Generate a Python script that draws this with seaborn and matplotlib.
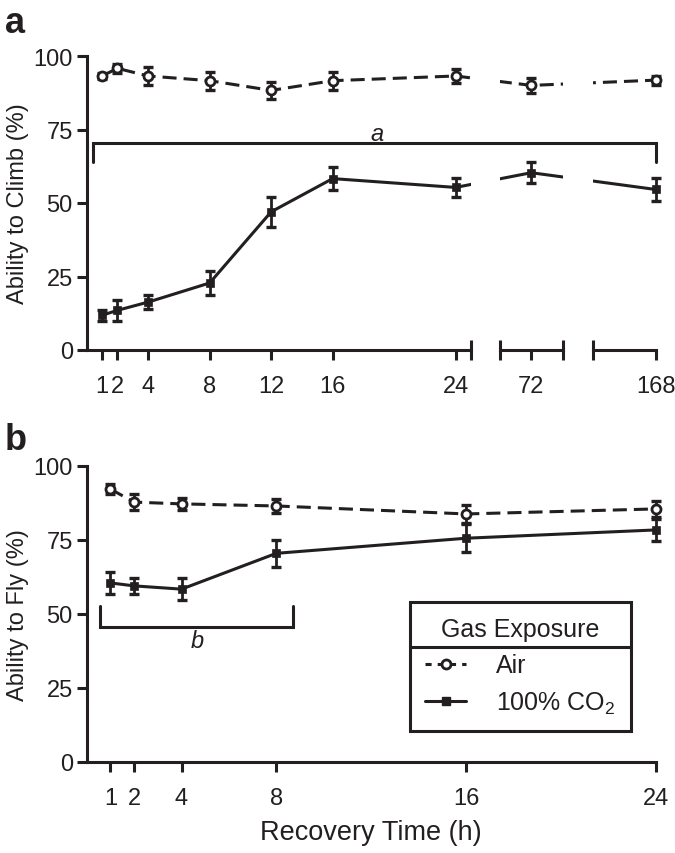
import numpy as np
import matplotlib
matplotlib.use('Agg')
import matplotlib.pyplot as plt
from matplotlib.lines import Line2D
import seaborn as sns

sns.set_theme(style='ticks')
plt.rcParams['font.family'] = ['Liberation Sans', 'DejaVu Sans']
plt.rcParams['mathtext.fontset'] = 'custom'
plt.rcParams['mathtext.rm'] = 'Liberation Sans'
plt.rcParams['mathtext.it'] = 'Liberation Sans:italic'

INK = '#231f20'

# ---- data ----
# panel a: climbing
time_a = [1, 2, 4, 8, 12, 16, 24, 72, 168]
air_climb = [93.2, 95.8, 93.2, 91.6, 88.3, 91.6, 93.2, 90.0, 91.8]
air_climb_err = [1.0, 1.5, 3.2, 3.0, 2.8, 3.0, 2.5, 2.5, 1.5]
co2_climb = [11.8, 13.5, 16.3, 22.8, 47.0, 58.3, 55.3, 60.3, 54.6]
co2_climb_err = [1.8, 3.5, 2.5, 4.0, 5.0, 4.0, 3.3, 3.5, 4.0]

# panel b: flying
time_b = [1, 2, 4, 8, 16, 24]
air_fly = [92.2, 87.8, 87.2, 86.5, 83.8, 85.5]
air_fly_err = [1.8, 2.8, 2.0, 2.5, 3.0, 2.8]
co2_fly = [60.5, 59.5, 58.4, 70.5, 75.6, 78.4]
co2_fly_err = [3.8, 2.8, 3.8, 4.5, 4.7, 3.6]

ticks_a = [1, 2, 4, 8, 12, 16, 24]
ticks_b = [1, 2, 4, 8, 16, 24]
y_ticks = [0, 25, 50, 75, 100]

# ---- broken x axis of panel a: hours -> pixel offset from the y axis ----
brk_h = np.array([0, 25, 70, 74, 164, 170])
brk_px = np.array([0, 384.3, 413.3, 475.8, 506.3, 600.4])


def _interp(v, xs, ys):
    v = np.asarray(v, dtype=float)
    out = np.interp(v, xs, ys)
    lo = (ys[1] - ys[0]) / (xs[1] - xs[0])
    hi = (ys[-1] - ys[-2]) / (xs[-1] - xs[-2])
    out = np.where(v < xs[0], ys[0] + (v - xs[0]) * lo, out)
    out = np.where(v > xs[-1], ys[-1] + (v - xs[-1]) * hi, out)
    return out


def fwd(v):
    return _interp(v, brk_h, brk_px)


def inv(v):
    return _interp(v, brk_px, brk_h)


W, H = 675, 854
fig = plt.figure(figsize=(W / 100, H / 100), dpi=100)


def add_ax(x0, y_top, w, y_bot):
    return fig.add_axes([x0 / W, 1 - y_bot / H, w / W, (y_bot - y_top) / H])


Y0 = 86.7
ax1 = add_ax(Y0, 57, brk_px[1], 351)
ax2 = add_ax(Y0 + brk_px[2], 57, brk_px[3] - brk_px[2], 351)
ax3 = add_ax(Y0 + brk_px[4], 57, brk_px[5] - brk_px[4], 351)
axb = add_ax(Y0, 467, 569.0, 763)

LW = 2.2
FS = 17
FS_LAB = 17


def draw_series(ax, x, y, err, kind, clip=True):
    if kind == 'air':
        st = dict(linestyle=(0, (4.6, 2.3)), marker='o', markersize=6.5,
                  markerfacecolor='white', markeredgewidth=2.0)
    else:
        st = dict(linestyle='-', marker='s', markersize=5.5,
                  markerfacecolor=INK, markeredgewidth=0.5)
    ax.errorbar(x, y, yerr=err, fmt='none', ecolor=INK, elinewidth=2.0,
                capsize=3.5, capthick=2.4, clip_on=clip, zorder=2)
    sns.lineplot(x=x, y=y, ax=ax, color=INK, linewidth=LW, markeredgecolor=INK,
                 errorbar=None, legend=False, clip_on=clip, zorder=3, **st)


for ax in (ax1, ax2, ax3):
    ax.set_xscale('function', functions=(fwd, inv))
    ax.patch.set_visible(False)
    draw_series(ax, time_a, air_climb, air_climb_err, 'air')
    draw_series(ax, time_a, co2_climb, co2_climb_err, 'co2')
    ax.set_ylim(0, 100)
    ax.set_xlabel('')
    ax.set_ylabel('')
    for s in ('top', 'right'):
        ax.spines[s].set_visible(False)
    for s in ('left', 'bottom'):
        ax.spines[s].set_linewidth(LW)
        ax.spines[s].set_color(INK)
    ax.tick_params(axis='both', which='major', length=7, width=LW, color=INK,
                   labelsize=FS, labelcolor=INK)
    ax.tick_params(axis='x', which='major', pad=11)
    ax.tick_params(axis='x', which='minor', direction='inout', length=14,
                   width=LW, color=INK)

ax1.set_xlim(0, 25)
ax1.set_xticks(ticks_a)
ax1.set_xticklabels([str(t) for t in ticks_a])
ax1.set_xticks([25], minor=True)
ax1.set_yticks(y_ticks)
ax1.tick_params(axis='y', pad=3)

ax2.set_xlim(70, 74)
ax2.set_xticks([72])
ax2.set_xticklabels(['72'])
ax2.set_xticks([70, 74], minor=True)

ax3.set_xlim(164, 170)
ax3.set_xticks([168])
ax3.set_xticklabels(['168'])
ax3.set_xticks([164], minor=True)
ax3.spines['bottom'].set_bounds(164, 168)

for ax in (ax2, ax3):
    ax.spines['left'].set_visible(False)
    ax.set_yticks([])

ax1.set_ylabel('Ability to Climb (%)', fontsize=FS_LAB, color=INK, labelpad=3)

# significance bracket a (spans the broken axis)
ax1.plot([0.41, 0.41, 168, 168], [64, 70.4, 70.4, 64], color=INK, lw=LW,
         clip_on=False, solid_joinstyle='miter', zorder=5)
ax1.text(18.9, 73.8, 'a', style='italic', ha='center', va='center',
         fontsize=FS, color=INK)

# ---- panel b ----
draw_series(axb, time_b, air_fly, air_fly_err, 'air', clip=False)
draw_series(axb, time_b, co2_fly, co2_fly_err, 'co2', clip=False)
axb.set_xlim(0, 24)
axb.set_ylim(0, 100)
axb.set_xticks(ticks_b)
axb.set_xticklabels([str(t) for t in ticks_b])
axb.set_yticks(y_ticks)
sns.despine(ax=axb)
for s in ('left', 'bottom'):
    axb.spines[s].set_linewidth(LW)
    axb.spines[s].set_color(INK)
axb.tick_params(axis='both', which='major', length=7, width=LW, color=INK,
                labelsize=FS, labelcolor=INK)
axb.tick_params(axis='x', pad=11)
axb.tick_params(axis='y', pad=3)
axb.set_ylabel('Ability to Fly (%)', fontsize=FS_LAB, color=INK, labelpad=3)
axb.set_xlabel('Recovery Time (h)', fontsize=19.5, color=INK, labelpad=7)

axb.plot([0.57, 0.57, 8.7, 8.7], [52.8, 45.7, 45.7, 52.8], color=INK, lw=LW,
         clip_on=False, solid_joinstyle='miter')
axb.text(4.66, 40.9, 'b', style='italic', ha='center', va='center',
         fontsize=FS, color=INK)

# legend
handles = [
    Line2D([], [], color=INK, lw=LW, linestyle=(0, (2.0, 2.0)), marker='o',
           markersize=6.5, markerfacecolor='white', markeredgecolor=INK,
           markeredgewidth=2.0),
    Line2D([], [], color=INK, lw=LW, linestyle='-', marker='s',
           markersize=5.5, markerfacecolor=INK, markeredgecolor=INK),
]
leg = axb.legend(handles, ['Air', '100% CO$_\\mathregular{2}$'],
                 title='Gas Exposure', fontsize=18, title_fontsize=18,
                 loc='upper left', bbox_to_anchor=(410 / W, 1 - 603 / H),
                 bbox_transform=fig.transFigure, borderaxespad=0,
                 frameon=True, fancybox=False, framealpha=1,
                 edgecolor=INK, handlelength=1.65, handletextpad=1.2,
                 labelspacing=0.5, borderpad=0.6, numpoints=1)
leg.get_frame().set_linewidth(LW)
for t in leg.get_texts():
    t.set_color(INK)
leg.get_title().set_color(INK)

# separator under the legend title
fig.canvas.draw()
rend = fig.canvas.get_renderer()
tb = leg.get_title().get_window_extent(rend)
fb = leg.get_frame().get_window_extent(rend)
y_sep = tb.y0 - 6
p0 = fig.transFigure.inverted().transform((fb.x0, y_sep))
p1 = fig.transFigure.inverted().transform((fb.x1, y_sep))
fig.add_artist(Line2D([p0[0], p1[0]], [p0[1], p1[1]], color=INK, lw=LW))

# panel letters
fig.text(5 / W, 1 - 33 / H, 'a', fontsize=26, fontweight='bold', color=INK,
         va='baseline')
fig.text(5 / W, 1 - 450 / H, 'b', fontsize=26, fontweight='bold', color=INK,
         va='baseline')

fig.savefig('out.png', dpi=100)
